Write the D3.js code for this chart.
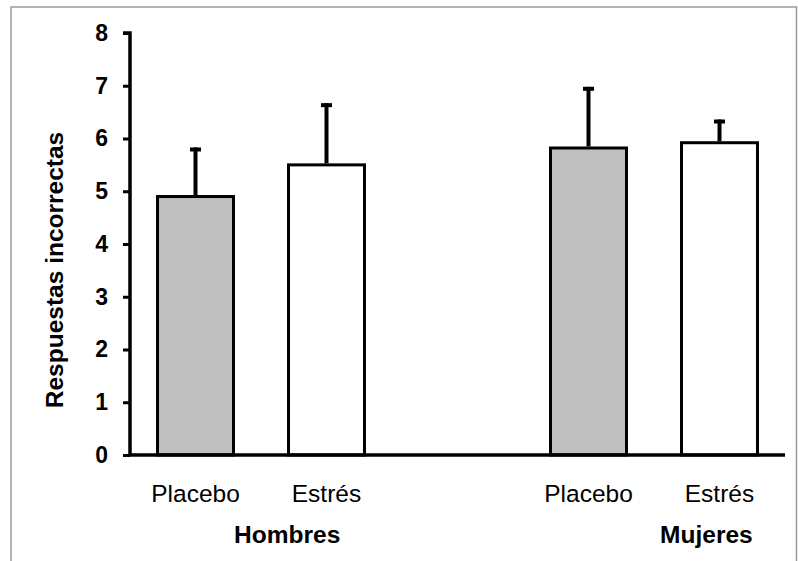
<!DOCTYPE html>
<html>
<head>
<meta charset="utf-8">
<script src="https://cdn.jsdelivr.net/npm/d3@7"></script>
<style>
  body { margin: 0; background: #fff; }
  svg { display: block; font-family: "Liberation Sans", Arial, sans-serif; }
</style>
</head>
<body>
<svg id="vis" width="798" height="561"></svg>
<script>
// data
const slots = ['H-Placebo', 'H-Estres', 'gap', 'M-Placebo', 'M-Estres'];
const conditions = ['Placebo', 'Estrés', 'Placebo', 'Estrés'];
const barSlots = ['H-Placebo', 'H-Estres', 'M-Placebo', 'M-Estres'];
const means = [4.9, 5.5, 5.82, 5.92];
const errors = [0.93, 1.17, 1.16, 0.44];
const fills = ['#c0c0c0', '#ffffff', '#c0c0c0', '#ffffff'];
const groups = ['Hombres', 'Mujeres'];
const yTicks = [0, 1, 2, 3, 4, 5, 6, 7, 8];

const bars = barSlots.map((s, i) => ({slot: s, label: conditions[i], value: means[i], err: errors[i], fill: fills[i]}));

const svg = d3.select('#vis');

// outer frame
svg.append('rect')
  .attr('x', 11).attr('y', 7)
  .attr('width', 785.5).attr('height', 600)
  .attr('fill', 'none')
  .attr('stroke', '#9a9a9a')
  .attr('stroke-width', 1.5);

const x = d3.scaleBand()
  .domain(slots)
  .range([130, 785]);

const y = d3.scaleLinear()
  .domain([0, 8])
  .range([455, 33]);

const barWidth = x.bandwidth() * 0.58;
const cx = d => x(d) + x.bandwidth() / 2;

// bars
svg.selectAll('rect.bar').data(bars)
  .enter()
  .append('rect')
    .classed('bar', true)
    .attr('x', d => cx(d.slot) - barWidth / 2)
    .attr('y', d => y(d.value))
    .attr('width', barWidth)
    .attr('height', d => y(0) - y(d.value))
    .attr('fill', d => d.fill)
    .attr('stroke', '#000')
    .attr('stroke-width', 3);

// error bars (upper only)
svg.selectAll('line.err').data(bars)
  .enter()
  .append('line')
    .classed('err', true)
    .attr('x1', d => cx(d.slot)).attr('x2', d => cx(d.slot))
    .attr('y1', d => y(d.value) - 1.5)
    .attr('y2', d => y(d.value + d.err))
    .attr('stroke', '#000')
    .attr('stroke-width', 4);

svg.selectAll('line.cap').data(bars)
  .enter()
  .append('line')
    .classed('cap', true)
    .attr('x1', d => cx(d.slot) - 5.5).attr('x2', d => cx(d.slot) + 5.5)
    .attr('y1', d => y(d.value + d.err) + 2)
    .attr('y2', d => y(d.value + d.err) + 2)
    .attr('stroke', '#000')
    .attr('stroke-width', 4);

// y axis
const yAxis = svg.append('g')
  .attr('transform', 'translate(130,0)')
  .call(d3.axisLeft(y).tickValues(yTicks).tickSize(7).tickSizeOuter(7).tickPadding(15));
yAxis.select('.domain').attr('stroke-width', 3.5).attr('d', `M-7,${y(8)}H0V${y(0)}`);
yAxis.selectAll('.tick line').attr('stroke-width', 3);
yAxis.selectAll('.tick text')
  .attr('fill', '#000')
  .attr('font-size', 23)
  .attr('font-weight', 'bold')
  .attr('font-family', '"Liberation Sans", Arial, sans-serif');

// x axis line
svg.append('line')
  .attr('x1', 130).attr('x2', x.range()[1])
  .attr('y1', y(0)).attr('y2', y(0))
  .attr('stroke', '#000')
  .attr('stroke-width', 3.5);

// condition labels
svg.selectAll('text.cond').data(bars)
  .enter()
  .append('text')
    .classed('cond', true)
    .attr('x', d => cx(d.slot))
    .attr('y', 502)
    .attr('text-anchor', 'middle')
    .attr('font-size', 24.5)
    .text(d => d.label);

// group labels
const groupX = [cx('H-Estres') - 0.3 * x.step(), cx('M-Estres') - 0.1 * x.step()];
svg.selectAll('text.group').data(groups)
  .enter()
  .append('text')
    .classed('group', true)
    .attr('x', (d, i) => groupX[i])
    .attr('y', 543)
    .attr('text-anchor', 'middle')
    .attr('font-size', 24.5)
    .attr('font-weight', 'bold')
    .text(d => d);

// y title
svg.append('text')
  .attr('transform', 'translate(63,270) rotate(-90)')
  .attr('text-anchor', 'middle')
  .attr('font-size', 24.5)
  .attr('font-weight', 'bold')
  .text('Respuestas incorrectas');
</script>
</body>
</html>
